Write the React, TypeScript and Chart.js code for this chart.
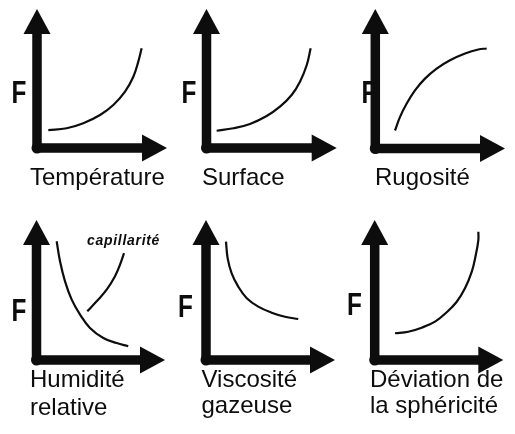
import React, { useEffect, useRef } from "react";
import { Chart, registerables } from "chart.js";

Chart.register(...registerables);

const W = 515;
const H = 434;

// ---- data (relative units, axis 0..10) ----
const temperatureX = [0.87, 2.28, 3.56, 4.85, 5.87, 6.77, 7.41, 7.79, 8.05];
const temperatureY = [1.29, 1.42, 1.78, 2.37, 3.09, 4.05, 5.13, 6.21, 7.17];

const surfaceX = [0.78, 2.06, 3.34, 4.62, 5.64, 6.54, 7.18, 7.7, 8.0];
const surfaceY = [1.24, 1.42, 1.73, 2.3, 2.97, 3.81, 4.77, 5.97, 7.17];

const rugositeX = [1.52, 1.9, 2.42, 3.06, 3.83, 4.73, 5.76, 6.92, 7.94, 8.59];
const rugositeY = [1.29, 2.25, 3.22, 4.17, 5.01, 5.73, 6.33, 6.81, 7.1, 7.17];

const humiditeX = [1.57, 1.83, 2.22, 2.74, 3.39, 4.16, 5.2, 6.24, 7.14];
const humiditeY = [8.48, 7.05, 5.62, 4.31, 3.24, 2.29, 1.57, 1.21, 0.98];

const capillariteX = [3.95, 4.68, 5.46, 6.11, 6.5, 6.81];
const capillariteY = [3.48, 4.19, 5.02, 5.98, 6.81, 7.64];

const viscositeX = [1.55, 1.68, 1.99, 2.5, 3.16, 4.05, 5.09, 6.12, 7.15];
const viscositeY = [8.45, 7.26, 6.19, 5.24, 4.41, 3.81, 3.38, 3.09, 2.93];

const deviationX = [1.58, 2.61, 3.65, 4.69, 5.6, 6.38, 7.02, 7.55, 7.86, 8.06, 8.06];
const deviationY = [1.91, 2.02, 2.31, 2.74, 3.41, 4.16, 5.12, 6.31, 7.5, 8.57, 9.16];

const yAxisTitle = "F";
const temperatureLabel = ["Température"];
const surfaceLabel = ["Surface"];
const rugositeLabel = ["Rugosité"];
const humiditeLabel = ["Humidité", "relative"];
const viscositeLabel = ["Viscosité", "gazeuse"];
const deviationLabel = ["Déviation de", "la sphéricité"];
const capillariteNote = "capillarité";

// ---- layout (pixels) ----
type Series = { x: number[]; y: number[] };
type PanelCfg = {
  series: Series[];
  label: string[];
  area: { left: number; right: number; top: number; bottom: number };
  labelX: number;
  labelY: number[];
  fX: number;
  fY: number;
  note?: { text: string; x: number; y: number };
};

const panels: PanelCfg[] = [
  {
    series: [{ x: temperatureX, y: temperatureY }],
    label: temperatureLabel,
    area: { left: 37, right: 167, top: 9, bottom: 148 },
    labelX: 30,
    labelY: [185],
    fX: 11.5,
    fY: 103,
  },
  {
    series: [{ x: surfaceX, y: surfaceY }],
    label: surfaceLabel,
    area: { left: 206.5, right: 336.7, top: 9, bottom: 148 },
    labelX: 202,
    labelY: [185],
    fX: 181.5,
    fY: 103,
  },
  {
    series: [{ x: rugositeX, y: rugositeY }],
    label: rugositeLabel,
    area: { left: 375.3, right: 505, top: 9, bottom: 148.5 },
    labelX: 375,
    labelY: [185],
    fX: 361.5,
    fY: 103,
  },
  {
    series: [
      { x: humiditeX, y: humiditeY },
      { x: capillariteX, y: capillariteY },
    ],
    label: humiditeLabel,
    area: { left: 36.5, right: 165, top: 220, bottom: 360 },
    labelX: 30,
    labelY: [387, 415],
    fX: 11.5,
    fY: 321,
    note: { text: capillariteNote, x: 87, y: 245 },
  },
  {
    series: [{ x: viscositeX, y: viscositeY }],
    label: viscositeLabel,
    area: { left: 206, right: 335, top: 220, bottom: 360 },
    labelX: 201.5,
    labelY: [387, 413],
    fX: 178,
    fY: 317,
  },
  {
    series: [{ x: deviationX, y: deviationY }],
    label: deviationLabel,
    area: { left: 374.7, right: 503.3, top: 220, bottom: 360 },
    labelX: 370,
    labelY: [387, 413],
    fX: 347,
    fY: 315,
  },
];

const INK = "#0d0d0d";
const FONT = '"Liberation Sans", Arial, Helvetica, sans-serif';

function makeArrowPlugin(cfg: PanelCfg) {
  return {
    id: "arrowAxes",
    beforeDatasetsDraw(chart: any) {
      const ctx = chart.ctx as CanvasRenderingContext2D;
      const xs = chart.scales.x;
      const ys = chart.scales.y;
      const ox = xs.getPixelForValue(0);
      const oy = ys.getPixelForValue(0);
      const tx = xs.getPixelForValue(10);
      const ty = ys.getPixelForValue(10);
      const headLen = 25;
      const headHalf = 13.5;
      ctx.save();
      ctx.strokeStyle = INK;
      ctx.fillStyle = INK;
      ctx.lineWidth = 9.5;
      ctx.lineJoin = "round";
      ctx.lineCap = "butt";
      ctx.beginPath();
      ctx.moveTo(ox, ty + headLen - 2);
      ctx.lineTo(ox, oy);
      ctx.lineTo(tx - headLen + 2, oy);
      ctx.stroke();
      // rounded corner blob at origin
      ctx.beginPath();
      ctx.arc(ox, oy, 5.5, 0, Math.PI * 2);
      ctx.fill();
      // vertical arrow head
      ctx.beginPath();
      ctx.moveTo(ox, ty);
      ctx.lineTo(ox - headHalf, ty + headLen);
      ctx.lineTo(ox + headHalf, ty + headLen);
      ctx.closePath();
      ctx.fill();
      // horizontal arrow head
      ctx.beginPath();
      ctx.moveTo(tx, oy);
      ctx.lineTo(tx - headLen, oy - headHalf);
      ctx.lineTo(tx - headLen, oy + headHalf);
      ctx.closePath();
      ctx.fill();
      ctx.restore();
    },
    afterDraw(chart: any) {
      const ctx = chart.ctx as CanvasRenderingContext2D;
      ctx.save();
      ctx.fillStyle = INK;
      ctx.textBaseline = "alphabetic";
      ctx.textAlign = "left";
      // narrow bold "F"
      ctx.save();
      ctx.translate(cfg.fX, cfg.fY);
      ctx.scale(0.76, 1);
      ctx.font = `bold 32px ${FONT}`;
      ctx.fillText(yAxisTitle, 0, 0);
      ctx.restore();
      ctx.font = `24px ${FONT}`;
      cfg.label.forEach((line, i) => ctx.fillText(line, cfg.labelX, cfg.labelY[i]));
      if (cfg.note) {
        ctx.font = `italic bold 14px ${FONT}`;
        (ctx as any).letterSpacing = "0.7px";
        ctx.fillText(cfg.note.text, cfg.note.x, cfg.note.y);
      }
      ctx.restore();
    },
  };
}

function Panel({ cfg }: { cfg: PanelCfg }) {
  const ref = useRef<HTMLCanvasElement | null>(null);
  useEffect(() => {
    if (!ref.current) return;
    const a = cfg.area;
    const chart = new Chart(ref.current, {
      type: "line",
      data: {
        datasets: cfg.series.map((s) => ({
          data: s.x.map((x, i) => ({ x, y: s.y[i] })),
          borderColor: INK,
          borderWidth: 2.2,
          pointRadius: 0,
          tension: 0.4,
          fill: false,
          clip: false as any,
        })),
      },
      options: {
        responsive: false,
        animation: false,
        events: [],
        layout: {
          padding: { left: a.left, top: a.top, right: W - a.right, bottom: H - a.bottom },
        },
        scales: {
          x: { type: "linear", min: 0, max: 10, display: false },
          y: { type: "linear", min: 0, max: 10, display: false },
        },
        plugins: { legend: { display: false }, tooltip: { enabled: false } },
      },
      plugins: [makeArrowPlugin(cfg)],
    } as any);
    return () => chart.destroy();
  }, [cfg]);
  return (
    <canvas
      ref={ref}
      width={W}
      height={H}
      style={{ position: "absolute", left: 0, top: 0, width: W, height: H }}
    />
  );
}

export default function App() {
  return (
    <div
      style={{
        position: "absolute",
        left: 0,
        top: 0,
        width: W,
        height: H,
        background: "#ffffff",
        overflow: "hidden",
      }}
    >
      {panels.map((p, i) => (
        <Panel key={i} cfg={p} />
      ))}
    </div>
  );
}
